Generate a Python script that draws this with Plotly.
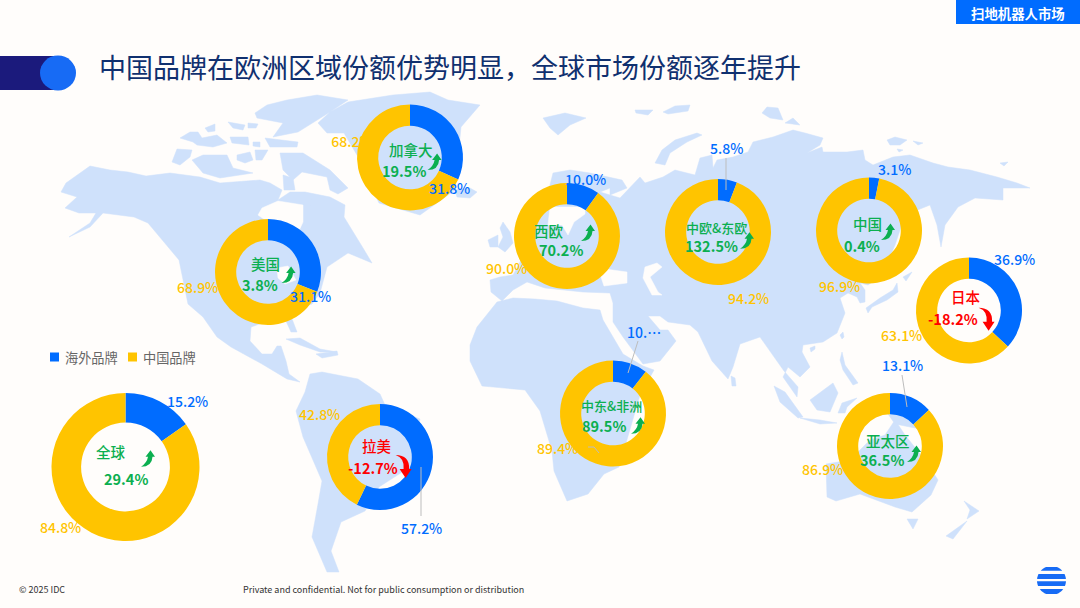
import numpy as np
import plotly.graph_objects as go

##################
###   ДАННЫЕ   ###
##################

regions = ["加拿大", "美国", "西欧", "中欧&东欧", "中国", "日本", "全球", "拉美", "中东&非洲", "亚太区"]
overseas_share = [31.8, 31.1, 10.0, 5.8, 3.1, 36.9, 15.2, 57.2, 10.6, 13.1]
china_share = [68.2, 68.9, 90.0, 94.2, 96.9, 63.1, 84.8, 42.8, 89.4, 86.9]
growth = [19.5, 3.8, 70.2, 132.5, 0.4, -18.2, 29.4, -12.7, 89.5, 36.5]
overseas_labels = ["31.8%", "31.1%", "10.0%", "5.8%", "3.1%", "36.9%", "15.2%", "57.2%", "10.…", "13.1%"]
china_labels = ["68.2%", "68.9%", "90.0%", "94.2%", "96.9%", "63.1%", "84.8%", "42.8%", "89.4%", "86.9%"]
series_names = ["海外品牌", "中国品牌"]

title_text = "中国品牌在欧洲区域份额优势明显，全球市场份额逐年提升"
tab_text = "扫地机器人市场"
footer_left = "© 2025 IDC"
footer_mid = "Private and confidential. Not for public consumption or distribution"

# Где что стоит на слайде (пиксели):
donut_cx = [410, 268, 567, 718, 869, 969, 125.5, 380, 613, 890]
donut_cy = [157.5, 272, 236, 232, 230.5, 310.5, 467, 457, 413.5, 446]
donut_r = [53, 53, 53, 53, 53, 53, 74, 53, 53, 53]
name_pos = [(411, 149), (265, 263), (549, 230), (716, 227), (867.5, 223),
            (966, 296.7), (111, 451), (377, 445.7), (611.6, 405.7), (888, 440)]
growth_pos = [(404, 170), (260, 284), (561, 249), (711.5, 245), (861.6, 245),
              (953, 318.7), (126, 478.7), (373, 467), (604.4, 425.7), (881.6, 459.7)]
arrow_pos = [(434.6, 162), (288.6, 275), (588, 233), (747, 240.7), (888, 232),
             (986.6, 318.7), (148, 458.7), (403.6, 466), (638, 425.7), (914, 454)]
overseas_pos = [(449, 188), (310.6, 296), (585.5, 178.7), (726, 148), (894, 169),
                (1014.5, 259), (187, 401), (421.8, 528), (644, 331.7), (902.6, 365)]
china_pos = [(352, 143), (197, 287), (506, 268), (748, 298), (839, 286),
             (901.6, 335), (60.6, 526.7), (319, 414), (557, 448), (822.7, 469)]

# Контуры карты (фон), снятые вручную:
north_america = [(61, 192), (66, 183), (90, 166), (110, 170), (128, 172), (146, 176), (170, 173),
                 (200, 177), (220, 183), (247, 181), (260, 180), (270, 183), (282, 190), (278, 200),
                 (290, 192), (305, 192), (330, 197), (345, 205), (344, 217), (363, 248), (372, 263),
                 (348, 253), (327, 267), (320, 293), (312, 304), (289, 311), (293, 321), (297, 332),
                 (291, 332), (286, 321), (265, 322), (251, 327), (250, 341), (262, 354), (272, 354),
                 (277, 346), (281, 346), (286, 361), (289, 374), (300, 382), (287, 379), (262, 364),
                 (231, 347), (217, 337), (203, 317), (188, 304), (179, 260), (148, 223), (134, 217),
                 (103, 213), (90, 227), (69, 237), (90, 223), (96, 213), (79, 213), (65, 208), (77, 197)]
greenland = [(430, 92), (393, 95), (348, 102), (330, 112), (318, 123), (327, 133), (344, 133), (357, 155),
             (379, 203), (420, 215), (455, 190), (461, 127), (480, 105), (448, 100)]
arctic_islands = [
    [(267, 105), (287, 100), (317, 95), (348, 100), (330, 112), (310, 125), (298, 132), (273, 137),
     (283, 123), (257, 118), (255, 113)],
    [(265, 138), (298, 142), (297, 147), (270, 147)],
    [(180, 138), (190, 132), (198, 132), (202, 138), (217, 135), (227, 143), (213, 147), (197, 145), (193, 142)],
    [(205, 128), (215, 124), (215, 131), (208, 132)],
    [(228, 122), (245, 125), (243, 130), (233, 128)],
    [(248, 123), (258, 124), (256, 128), (248, 128)],
    [(230, 137), (248, 137), (249, 145), (232, 143)],
    [(253, 142), (260, 142), (260, 147), (253, 146)],
    [(172, 162), (177, 149), (192, 150), (190, 157), (180, 165)],
    [(192, 160), (203, 155), (227, 155), (233, 168), (253, 173), (220, 178), (203, 173)],
    [(237, 155), (250, 152), (253, 160), (245, 163), (237, 160)],
    [(255, 150), (268, 150), (262, 160), (256, 160)],
    [(280, 153), (303, 153), (330, 170), (348, 188), (338, 194), (330, 190), (327, 177), (302, 172),
     (293, 180), (283, 170)],
    [(283, 175), (293, 178), (295, 190), (284, 190)],
    [(303, 197), (312, 197), (310, 208), (304, 206)],
    [(455, 190), (470, 188), (477, 192), (470, 198), (457, 197)],
    [(286, 339), (300, 338), (320, 349), (337, 352), (320, 352), (300, 345)],
    [(316, 354), (337, 351), (338, 355), (322, 358)],
]
south_america = [(310, 374), (322, 372), (358, 379), (380, 394), (385, 405), (420, 419), (410, 467),
                 (379, 487), (365, 511), (341, 522), (331, 551), (339, 572), (327, 572), (312, 537),
                 (318, 504), (322, 481), (303, 437), (296, 411), (305, 392)]
africa = [(470, 345), (477, 327), (497, 302), (513, 298), (535, 299), (557, 301), (583, 308), (600, 310),
          (603, 320), (623, 354), (643, 366), (654, 370), (640, 395), (626, 444), (619, 467), (604, 474),
          (588, 494), (567, 501), (564, 494), (554, 471), (552, 451), (540, 411), (525, 390), (482, 386),
          (470, 361)]
eurasia = [(490, 280), (500, 277), (513, 275), (520, 262), (527, 245), (533, 225), (545, 205),
           (553, 173), (570, 170), (590, 173), (622, 180), (627, 188), (610, 195), (610, 188), (600, 192),
           (620, 198), (640, 177), (645, 183), (663, 177), (675, 170), (695, 175), (700, 158), (712, 155),
           (713, 168), (717, 160), (733, 157), (748, 152), (753, 142), (773, 137), (793, 130), (805, 133),
           (823, 138), (820, 145), (807, 153), (822, 147), (823, 152), (847, 152), (863, 150), (865, 160),
           (873, 165), (893, 157), (910, 155), (933, 163), (948, 167), (970, 170), (997, 177), (1017, 183),
           (1030, 188), (1003, 188), (1003, 200), (975, 198), (958, 207), (945, 225), (941, 247), (937, 225),
           (930, 205), (905, 215), (895, 245), (882, 275), (868, 285), (860, 283), (865, 290), (865, 302),
           (860, 303), (857, 297), (848, 293), (840, 298), (845, 313), (837, 333), (823, 342), (803, 345),
           (802, 352), (810, 367), (800, 377), (788, 367), (783, 377), (797, 397), (798, 387), (784, 371),
           (774, 357), (760, 337), (740, 344), (733, 367), (728, 379), (712, 361), (698, 332), (690, 325),
           (668, 322), (660, 316), (648, 316), (660, 330), (668, 330), (676, 341), (660, 361), (643, 364),
           (623, 337), (613, 322), (613, 303), (610, 293), (583, 292), (565, 290), (545, 288), (527, 282),
           (513, 290), (502, 301), (491, 292)]
asia_islands = [
    [(503, 222), (510, 232), (513, 243), (505, 252), (498, 247), (503, 237), (500, 228)],
    [(488, 240), (498, 235), (498, 247), (490, 247)],
    [(543, 118), (565, 113), (586, 118), (570, 125), (558, 135), (550, 128)],
    [(655, 163), (662, 150), (675, 140), (697, 133), (702, 135), (687, 142), (670, 153), (665, 165)],
    [(635, 110), (653, 110), (648, 115), (636, 113)],
    [(663, 112), (675, 106), (690, 105), (688, 111), (668, 114)],
    [(762, 113), (767, 107), (778, 108), (783, 120), (770, 118)],
    [(785, 123), (793, 118), (800, 125)],
    [(887, 140), (895, 137), (907, 140), (900, 145), (890, 145)],
    [(913, 141), (923, 143), (918, 145)],
    [(897, 149), (903, 150), (899, 152)],
    [(1000, 163), (1008, 162), (1004, 166)],
    [(897, 283), (898, 292), (887, 300), (872, 307), (868, 313), (866, 308), (880, 298), (893, 290)],
    [(903, 277), (912, 272), (906, 281)],
    [(731, 376), (735, 378), (736, 386), (732, 386)],
    [(840, 335), (843, 332), (844, 337), (842, 339)],
    [(810, 348), (815, 346), (815, 349), (811, 352)],
    [(842, 352), (845, 365), (858, 383), (853, 385), (843, 370), (840, 360)],
    [(810, 400), (833, 383), (838, 393), (830, 412), (817, 410)],
    [(774, 386), (785, 392), (803, 417), (798, 418), (780, 402)],
    [(800, 418), (820, 420), (837, 423), (820, 424)],
    [(838, 413), (842, 403), (857, 398), (847, 407), (845, 413)],
    [(888, 414), (905, 416), (932, 429), (915, 428), (895, 424)],
]
australia = [(826, 464), (850, 460), (870, 440), (885, 435), (895, 420), (905, 435), (925, 460), (938, 480),
             (931, 495), (912, 512), (895, 507), (860, 494), (836, 501), (827, 497)]
oceania_islands = [
    [(907, 519), (918, 519), (913, 529)],
    [(964, 501), (979, 511), (967, 519), (970, 510)],
    [(967, 521), (953, 539), (946, 536)],
]
# Водоёмы поверх суши:
water_bodies = [
    [(262, 208), (278, 201), (303, 205), (303, 222), (298, 233), (285, 232), (268, 222), (258, 215)],
    [(277, 268), (288, 266), (296, 280), (285, 284), (278, 278)],
    [(645, 267), (657, 263), (662, 267), (650, 277), (658, 292), (662, 295), (652, 295), (643, 278)],
    [(598, 268), (627, 272), (627, 283), (604, 286)],
    [(550, 207), (585, 207), (585, 214), (574, 222), (568, 235), (562, 225), (548, 225)],
]

BLUE = "#006CFF"
YELLOW = "#FFC400"
GREEN = "#0BAF50"
RED = "#FF0000"
MAP = "#CFE1FB"
BG = "#FFFDFB"
FONT = "Noto Sans CJK SC"
W, H = 1080, 608


def join_polys(polys):
    # Склеиваем контуры в один массив с разрывами
    xs, ys = [], []
    for poly in polys:
        xs += [p[0] for p in poly] + [poly[0][0], None]
        ys += [p[1] for p in poly] + [poly[0][1], None]
    return xs, ys


def text(x, y, s, size, color, weight=400, anchor="center"):
    return dict(x=x, y=y, xref="x", yref="y", text=s, showarrow=False, xanchor=anchor, yanchor="middle",
                font=dict(family=FONT, size=size, color=color, weight=weight))


def up_arrow(x, y, color):
    return dict(type="path", xref="x", yref="y", fillcolor=color, line_width=0,
                path=(f"M{x-7},{y+8} Q{x-1},{y+4} {x},{y-2} L{x-2.5},{y-2} L{x+2.5},{y-8.5} "
                      f"L{x+7},{y-2} L{x+4.5},{y-2} Q{x+4},{y+8} {x-7},{y+8} Z"))


def down_arrow(x, y, color):
    return dict(type="path", xref="x", yref="y", fillcolor=color, line_width=0,
                path=(f"M{x-8},{y-11} Q{x+1},{y-8} {x},{y+3} L{x-4},{y+3} L{x+2},{y+12} "
                      f"L{x+8},{y+3} L{x+5.5},{y+3} Q{x+6},{y-11} {x-8},{y-11} Z"))


def leader(x0, y0, x1, y1):
    return dict(type="line", xref="x", yref="y", x0=x0, y0=y0, x1=x1, y1=y1,
                line=dict(color="#BDBDBD", width=1))


##################
###  КАРТА     ###
##################

land_x, land_y = join_polys([north_america, greenland, south_america, africa, eurasia, australia]
                            + arctic_islands + asia_islands + oceania_islands)
water_x, water_y = join_polys(water_bodies)

fig = go.Figure()
fig.add_trace(go.Scatter(x=land_x, y=land_y, mode="lines", fill="toself", fillcolor=MAP,
                         line=dict(color=MAP, width=0.5), hoverinfo="skip", showlegend=False))
fig.add_trace(go.Scatter(x=water_x, y=water_y, mode="lines", fill="toself", fillcolor=BG,
                         line=dict(color=BG, width=0.5), hoverinfo="skip", showlegend=False))

# Подпись 68.2% уходит под кольцо, поэтому она идёт трейсом под пончиками
fig.add_trace(go.Scatter(x=[china_pos[0][0]], y=[china_pos[0][1]], mode="text", text=[china_labels[0]],
                         textposition="middle center", hoverinfo="skip", showlegend=False,
                         textfont=dict(family=FONT, size=14, color=YELLOW, weight=500)))

##################
###  ПОНЧИКИ   ###
##################

annotations = []
shapes = []

for i, region in enumerate(regions):
    cx, cy, r = donut_cx[i], donut_cy[i], donut_r[i]
    fig.add_trace(go.Pie(labels=series_names, values=[overseas_share[i], china_share[i]],
                         hole=0.6, sort=False, direction="clockwise", rotation=0,
                         marker=dict(colors=[BLUE, YELLOW], line=dict(width=0)),
                         textinfo="none", hoverinfo="label+percent", showlegend=False,
                         domain=dict(x=[(cx - r) / W, (cx + r) / W], y=[1 - (cy + r) / H, 1 - (cy - r) / H])))
    state_color = GREEN if growth[i] >= 0 else RED
    name_size = 13 if "&" in region else 14.5
    annotations.append(text(*name_pos[i], region, name_size, state_color, 500))
    annotations.append(text(*growth_pos[i], f"{growth[i]:.1f}%", 14.5, state_color, 700))
    annotations.append(text(*overseas_pos[i], overseas_labels[i], 14, BLUE, 500))
    if i > 0:
        annotations.append(text(*china_pos[i], china_labels[i], 14, YELLOW, 500))
    if growth[i] >= 0:
        shapes.append(up_arrow(*arrow_pos[i], state_color))
    else:
        shapes.append(down_arrow(*arrow_pos[i], state_color))

# Выноски
shapes += [leader(726, 158, 726, 190), leader(421, 467, 421, 516), leader(638, 341, 628, 373),
           leader(902, 375, 907, 407), leader(588, 447, 594, 447), leader(594, 447, 599, 453)]

##################
###  ОБВЯЗКА   ###
##################

# Плашка заголовка
shapes.append(dict(type="rect", xref="x", yref="y", x0=0, x1=58, y0=56, y1=90,
                   fillcolor="#1B1A7C", line_width=0))
shapes.append(dict(type="circle", xref="x", yref="y", x0=40, x1=76, y0=55.5, y1=90.5,
                   fillcolor="#176BF5", line_width=0))
shapes.append(dict(type="rect", xref="x", yref="y", x0=956, x1=1080, y0=0, y1=24,
                   fillcolor=BLUE, line_width=0))

# Легенда
shapes.append(dict(type="rect", xref="x", yref="y", x0=50, x1=59, y0=352.5, y1=361.5,
                   fillcolor=BLUE, line_width=0))
shapes.append(dict(type="rect", xref="x", yref="y", x0=128, x1=137, y0=352.5, y1=361.5,
                   fillcolor=YELLOW, line_width=0))
annotations.append(text(62.5, 357, series_names[0], 13.2, "#666666", 400, "left"))
annotations.append(text(140.5, 357, series_names[1], 13.2, "#666666", 400, "left"))

# Значок внизу справа: круг из полос
for y0, y1 in [(567, 570.7), (574, 579), (581.3, 586), (589, 594)]:
    ys = np.linspace(y0, y1, 7)
    half = np.sqrt(np.clip(14.5**2 - (ys - 580.5)**2, 0, None))
    pts = list(zip(1051.5 - half, ys)) + list(zip(1051.5 + half[::-1], ys[::-1]))
    shapes.append(dict(type="path", xref="x", yref="y", fillcolor="#176BF5", line_width=0,
                       path="M" + " L".join(f"{a:.2f},{b:.2f}" for a, b in pts) + " Z"))

annotations.append(text(96.5, 66, title_text, 27, "#10306F", 400, "left"))
annotations.append(text(1018, 12.5, tab_text, 13.4, "#FFFFFF", 700))
annotations.append(text(16.5, 589, footer_left, 9, "#333333", 400, "left"))
annotations.append(text(240.5, 589, footer_mid, 9, "#333333", 400, "left"))

fig.update_layout(width=W, height=H, margin=dict(l=0, r=0, t=0, b=0), autosize=False,
                  paper_bgcolor=BG, plot_bgcolor=BG, showlegend=False,
                  xaxis=dict(range=[0, W], visible=False, fixedrange=True),
                  yaxis=dict(range=[H, 0], visible=False, fixedrange=True),
                  annotations=annotations, shapes=shapes)

fig.write_html("out.html", post_script="document.body.style.margin='0';", config=dict(displayModeBar=False))
